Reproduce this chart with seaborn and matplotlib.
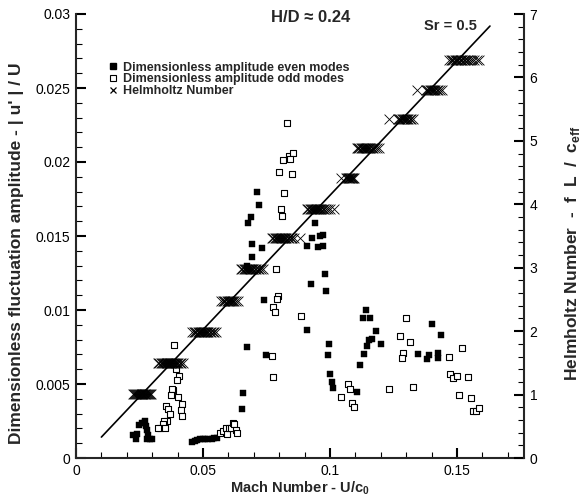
import matplotlib
matplotlib.use("Agg")
import matplotlib.pyplot as plt
import seaborn as sns
import pandas as pd
from matplotlib.ticker import MultipleLocator, FuncFormatter
from matplotlib.lines import Line2D

# ---------------- data ----------------
even_mach = [0.0224, 0.0236, 0.0240, 0.0248, 0.0260, 0.0268, 0.0272, 0.0276, 0.0280, 0.0283,
             0.0280, 0.0291, 0.0299, 0.0457, 0.0469, 0.0476, 0.0488, 0.0500, 0.0508, 0.0520,
             0.0535, 0.0543, 0.0555, 0.0654, 0.0657, 0.0673, 0.0673, 0.0693, 0.0693, 0.0677,
             0.0689, 0.0720, 0.0713, 0.0732, 0.0740, 0.0748, 0.0909, 0.0941, 0.0929, 0.0961,
             0.0972, 0.0909, 0.0953, 0.0972, 0.0980, 0.0925, 0.0984, 0.0996, 0.0992, 0.1000,
             0.1008, 0.1012, 0.1106, 0.1118, 0.1134, 0.1146, 0.1154, 0.1165, 0.1181, 0.1130,
             0.1157, 0.1142, 0.1201, 0.1346, 0.1382, 0.1390, 0.1402, 0.1425, 0.1425, 0.1437]
even_amp = [0.00155, 0.00128, 0.00162, 0.00223, 0.00236, 0.00236, 0.00250, 0.00216, 0.00189, 0.00155,
            0.00128, 0.00128, 0.00128, 0.00108, 0.00115, 0.00122, 0.00128, 0.00128, 0.00128, 0.00128,
            0.00128, 0.00135, 0.00135, 0.00331, 0.00439, 0.00750, 0.01300, 0.01358, 0.01446, 0.01588,
            0.01630, 0.01710, 0.01800, 0.01420, 0.01070, 0.00696, 0.00865, 0.01590, 0.01486, 0.01500,
            0.01510, 0.01432, 0.01426, 0.01432, 0.01243, 0.01176, 0.01128, 0.00770, 0.00696, 0.00568,
            0.00514, 0.00473, 0.00446, 0.00628, 0.00703, 0.00757, 0.00797, 0.00804, 0.00858, 0.00946,
            0.00946, 0.01000, 0.00770, 0.00703, 0.00669, 0.00696, 0.00905, 0.00710, 0.00676, 0.00831]

odd_mach = [0.0386, 0.0394, 0.0406, 0.0398, 0.0382, 0.0378, 0.0374, 0.0402, 0.0417, 0.0413,
            0.0417, 0.0354, 0.0362, 0.0370, 0.0358, 0.0346, 0.0343, 0.0331, 0.0323, 0.0350,
            0.0567, 0.0579, 0.0590, 0.0594, 0.0602, 0.0610, 0.0618, 0.0622, 0.0630, 0.0634,
            0.0831, 0.0815, 0.0839, 0.0854, 0.0843, 0.0799, 0.0850, 0.0819, 0.0807, 0.0811,
            0.0787, 0.0795, 0.0791, 0.0776, 0.0783, 0.0886, 0.0772, 0.0776, 0.1071, 0.1079,
            0.1043, 0.1087, 0.1094, 0.1232, 0.1299, 0.1276, 0.1315, 0.1287, 0.1283, 0.1327,
            0.1469, 0.1472, 0.1484, 0.1500, 0.1520, 0.1508, 0.1543, 0.1555, 0.1563, 0.1575, 0.1587]
odd_amp = [0.00764, 0.00601, 0.00554, 0.00527, 0.00459, 0.00466, 0.00426, 0.00412, 0.00365, 0.00324,
           0.00284, 0.00351, 0.00331, 0.00297, 0.00250, 0.00250, 0.00230, 0.00203, 0.00203, 0.00203,
           0.00169, 0.00182, 0.00203, 0.00162, 0.00203, 0.00203, 0.00236, 0.00230, 0.00189, 0.00169,
           0.02264, 0.02014, 0.02041, 0.02061, 0.02020, 0.01932, 0.01919, 0.01790, 0.01682, 0.01635,
           0.01277, 0.01095, 0.01074, 0.01020, 0.00987, 0.00960, 0.00689, 0.00547, 0.00500, 0.00466,
           0.00412, 0.00372, 0.00345, 0.00466, 0.00946, 0.00824, 0.00784, 0.00710, 0.00676, 0.00480,
           0.00682, 0.00568, 0.00541, 0.00554, 0.00743, 0.00426, 0.00547, 0.00405, 0.00318, 0.00318, 0.00338]

# Helmholtz number clusters: level and the Mach numbers measured at that level
he_levels = [1.007, 1.494, 1.982, 2.470, 2.973, 3.461, 3.933, 4.420, 4.892, 5.348, 5.805, 6.277]
he_cluster_mach = [
    [0.0224, 0.0229, 0.0234, 0.0238, 0.0242, 0.0246, 0.0249, 0.0252, 0.0255, 0.0258, 0.0261,
     0.0264, 0.0267, 0.0270, 0.0273, 0.0276, 0.0279, 0.0282, 0.0286, 0.0290, 0.0295],
    [0.0323, 0.0328, 0.0333, 0.0338, 0.0342, 0.0346, 0.0350, 0.0354, 0.0357, 0.0360, 0.0363,
     0.0366, 0.0369, 0.0372, 0.0375, 0.0378, 0.0381, 0.0384, 0.0388, 0.0392, 0.0397, 0.0402,
     0.0408, 0.0414, 0.0421],
    [0.0457, 0.0463, 0.0469, 0.0474, 0.0479, 0.0483, 0.0487, 0.0491, 0.0495, 0.0499, 0.0503,
     0.0507, 0.0511, 0.0516, 0.0521, 0.0526, 0.0532, 0.0538, 0.0544, 0.0551],
    [0.0571, 0.0577, 0.0583, 0.0588, 0.0593, 0.0597, 0.0601, 0.0605, 0.0609, 0.0613, 0.0618,
     0.0623, 0.0629, 0.0638],
    [0.0650, 0.0655, 0.0660, 0.0665, 0.0669, 0.0673, 0.0677, 0.0681, 0.0685, 0.0689, 0.0693,
     0.0698, 0.0703, 0.0709, 0.0715, 0.0722, 0.0729, 0.0736],
    [0.0772, 0.0777, 0.0782, 0.0787, 0.0791, 0.0795, 0.0799, 0.0803, 0.0807, 0.0811, 0.0815,
     0.0819, 0.0823, 0.0828, 0.0833, 0.0839, 0.0845, 0.0852, 0.0860, 0.0882],
    [0.0910, 0.0915, 0.0920, 0.0925, 0.0929, 0.0933, 0.0937, 0.0941, 0.0945, 0.0949, 0.0953,
     0.0957, 0.0961, 0.0966, 0.0971, 0.0977, 0.0984, 0.0992, 0.1001, 0.1016],
    [0.1043, 0.1062, 0.1066, 0.1070, 0.1073, 0.1076, 0.1079, 0.1082, 0.1085, 0.1088, 0.1091, 0.1094],
    [0.1106, 0.1111, 0.1116, 0.1121, 0.1125, 0.1129, 0.1133, 0.1137, 0.1141, 0.1145, 0.1149,
     0.1154, 0.1159, 0.1165, 0.1171, 0.1178, 0.1185, 0.1193],
    [0.1232, 0.1267, 0.1272, 0.1277, 0.1282, 0.1286, 0.1290, 0.1294, 0.1298, 0.1303, 0.1308,
     0.1314, 0.1320, 0.1327],
    [0.1343, 0.1377, 0.1382, 0.1387, 0.1392, 0.1396, 0.1400, 0.1404, 0.1409, 0.1414, 0.1420,
     0.1427, 0.1434, 0.1441],
    [0.1469, 0.1475, 0.1481, 0.1486, 0.1491, 0.1496, 0.1501, 0.1506, 0.1511, 0.1516, 0.1521,
     0.1526, 0.1532, 0.1538, 0.1545, 0.1552, 0.1560, 0.1569, 0.1578, 0.1587],
]

# Strouhal line Sr = 0.5 (end points, in Helmholtz units)
sr_mach = [0.010, 0.163]
sr_he = [0.33, 6.81]

legend_labels = ["Dimensionless amplitude even modes",
                 "Dimensionless amplitude odd modes",
                 "Helmholtz Number"]

# ---------------- frames ----------------
even_df = pd.DataFrame({"mach": even_mach, "amp": even_amp})
odd_df = pd.DataFrame({"mach": odd_mach, "amp": odd_amp})
he_rows = []
for lvl, ms in zip(he_levels, he_cluster_mach):
    for m in ms:
        he_rows.append((m, lvl))
he_df = pd.DataFrame(he_rows, columns=["mach", "he"])
sr_df = pd.DataFrame({"mach": sr_mach, "he": sr_he})

# ---------------- style ----------------
sns.set_theme(context="paper", style="ticks")
plt.rcParams["font.family"] = ["Liberation Sans", "DejaVu Sans"]
plt.rcParams["mathtext.fontset"] = "custom"
plt.rcParams["mathtext.rm"] = "Liberation Sans"
plt.rcParams["mathtext.bf"] = "Liberation Sans:bold"
plt.rcParams["axes.linewidth"] = 1.5

fig = plt.figure(figsize=(5.84, 5.03), dpi=100)
ax = fig.add_axes([76 / 584, 45 / 503, 448 / 584, 444 / 503])
ax2 = ax.twinx()

sns.scatterplot(data=even_df, x="mach", y="amp", ax=ax, marker="s", s=18,
                color="black", edgecolor="black", linewidth=0.3, legend=False, zorder=3)
sns.scatterplot(data=odd_df, x="mach", y="amp", ax=ax, marker="s", s=16,
                color="white", edgecolor="black", linewidth=0.8, legend=False, zorder=3)
sns.lineplot(data=sr_df, x="mach", y="he", ax=ax2, color="black", linewidth=1.2,
             legend=False, zorder=2)
sns.scatterplot(data=he_df, x="mach", y="he", ax=ax2, marker="x", s=50,
                color="black", linewidth=0.6, legend=False, zorder=3)

ax.set_xlim(0, 0.1764)
ax.set_ylim(0, 0.03)
ax2.set_ylim(0, 7)

fmt = FuncFormatter(lambda v, p: f"{v:g}")
ax.xaxis.set_major_locator(MultipleLocator(0.05))
ax.xaxis.set_minor_locator(MultipleLocator(0.01))
ax.yaxis.set_major_locator(MultipleLocator(0.005))
ax.yaxis.set_minor_locator(MultipleLocator(0.001))
ax.xaxis.set_major_formatter(fmt)
ax.yaxis.set_major_formatter(fmt)
ax2.yaxis.set_major_locator(MultipleLocator(1))
ax2.yaxis.set_minor_locator(MultipleLocator(0.2))
ax2.yaxis.set_major_formatter(fmt)

for a in (ax, ax2):
    a.spines["top"].set_visible(False)
    a.tick_params(which="major", direction="in", length=7, width=1.5, labelsize=10,
                  colors="black", pad=4)
    a.tick_params(which="minor", direction="in", length=4, width=0.8, colors="black")
ax.spines["right"].set_visible(False)
ax2.spines["left"].set_visible(False)
ax2.spines["bottom"].set_visible(False)
ax.tick_params(axis="y", right=False)
ax.tick_params(axis="x", top=False)

ax.set_xlabel(r"Mach Number - U/c$_{\bf 0}$", fontsize=10.5, fontweight="bold", labelpad=1)
ax.set_ylabel("Dimensionless fluctuation amplitude - | u' | / U", fontsize=12.5,
              fontweight="bold")
ax2.set_ylabel(r"Helmholtz Number  -  f  L  /  c$_{\bf eff}$", fontsize=12.5,
               fontweight="bold")
ax.yaxis.set_label_coords(-0.116, 0.462)
ax2.yaxis.set_label_coords(1.088, 0.462)

ax2.text(0.524, 0.993, "H/D ≈ 0.24", transform=ax.transAxes, ha="center", va="center",
         fontsize=12, fontweight="bold")
ax2.text(0.836, 0.973, "Sr = 0.5", transform=ax.transAxes, ha="center", va="center",
         fontsize=10.5, fontweight="bold")

handles = [
    Line2D([], [], marker="s", ls="", color="black", markersize=5),
    Line2D([], [], marker="s", ls="", markerfacecolor="white", markeredgecolor="black",
           markeredgewidth=0.8, markersize=5),
    Line2D([], [], marker="x", ls="", color="black", markersize=5, markeredgewidth=0.9),
]
ax2.legend(handles, legend_labels, loc="upper left", bbox_to_anchor=(0.071, 0.893),
           frameon=False, borderpad=0, borderaxespad=0, handlelength=0.8,
           handletextpad=0.4, labelspacing=-0.02, prop={"weight": "bold", "size": 9})

fig.savefig("out.png", dpi=100)
